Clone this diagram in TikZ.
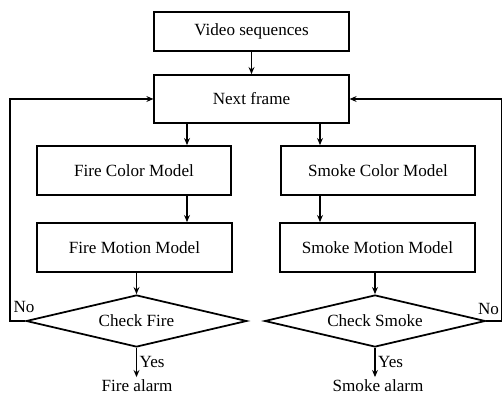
\documentclass[tikz,border=0pt]{standalone}
\usepackage{fontspec}
\setmainfont{Liberation Serif}
\usetikzlibrary{shapes,arrows.meta,calc}

\begin{document}
\begin{tikzpicture}
  [x=0.03cm,y=-0.03cm,
   line width=1.5pt,
   font=\fontsize{14.6}{17}\selectfont,
   arr/.style={-{Stealth[length=6pt,width=5pt]}},
   boxN/.style={draw,rectangle,inner sep=0pt,minimum width=5.83cm, minimum height=1.47cm},
   chkN/.style={draw,diamond,aspect=4.3,inner sep=0pt,minimum width=6.62cm,minimum height=1.56cm},
   txtN/.style={inner sep=1pt},
  ]

  \useasboundingbox (0,0) rectangle (502,397);

  \node[boxN,minimum height=1.17cm] (vid) at (251.5,31.5) {Video sequences};
  \node[boxN,minimum height=1.44cm] (next) at (251.5,99) {Next frame};

  \node[boxN] (fcol) at (134,170.5) {Fire Color Model};
  \node[boxN] (scol) at (378,170.5) {Smoke Color Model};
  \node[boxN] (fmot) at (134.5,247.5) {Fire Motion Model};
  \node[boxN] (smot) at (377.5,247.5) {Smoke Motion Model};

  \node[chkN] (fchk) at (136.5,321) {Check Fire};
  \node[chkN] (schk) at (375,321) {Check Smoke};

  \node[txtN,anchor=base] (falarm) at (137,391) {Fire alarm};
  \node[txtN,anchor=base] (salarm) at (378,391) {Smoke alarm};

  \coordinate (fsplit) at (187,0);
  \coordinate (ssplit) at (320,0);

  % main flow
  \draw[arr] (vid) -- (next);
  \draw[arr] (next.south -| fsplit) -- (fcol.north -| fsplit);
  \draw[arr] (next.south -| ssplit) -- (scol.north -| ssplit);
  \draw[arr] (fcol.south -| fsplit) -- (fmot.north -| fsplit);
  \draw[arr] (scol.south -| ssplit) -- (smot.north -| ssplit);
  \draw[arr] (fmot.south -| fchk.north) -- (fchk.north);
  \draw[arr] (smot.south -| schk.north) -- (schk.north);

  % decisions
  \draw[arr] (fchk.south) -- (falarm.north -| fchk.south)
    node[midway,right,inner sep=2pt] {Yes};
  \draw[arr] (schk.south) -- (salarm.north -| schk.south)
    node[midway,right,inner sep=2pt] {Yes};

  % loop back to the next frame
  \draw[arr] (fchk.west) -- ++(-15,0) node[above right,inner sep=2pt,yshift=4pt] {No} |- (next.west);
  \draw[arr] (schk.east) -- ++(16,0) node[above left,inner sep=2pt,yshift=3pt] {No} |- (next.east);
\end{tikzpicture}
\end{document}
